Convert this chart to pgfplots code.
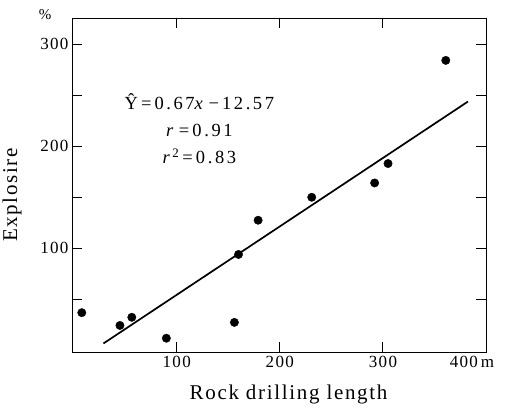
\documentclass[border=0pt]{standalone}
\usepackage{fontspec}
\setmainfont{Liberation Serif}[LetterSpace=8]
\newfontfamily\eqfont{Liberation Serif}[LetterSpace=14]
\usepackage{pgfplots}
\pgfplotsset{compat=1.18}
\begin{document}
\begin{tikzpicture}
\begin{axis}[
    scale only axis,
    width=414bp, height=334bp,
    xmin=-1.5, xmax=400,
    ymin=-1.5, ymax=325.5,
    clip=false,
    axis line style={line width=0.8bp},
    tick style={line width=0.8bp, black},
    major tick length=10bp,
    tick align=inside,
    xtick={100,200,300,400},
    xticklabels={100,200,300,{\llap{400}\,m}},
    ytick={50,100,150,200,250,300},
    yticklabels={,100,,200,,300},
    ticklabel style={font=\fontsize{17bp}{20bp}\selectfont},
    xticklabel style={yshift=-1bp},
    label style={font=\fontsize{21bp}{24bp}\selectfont},
    xlabel={Rock drilling length},
    xlabel style={at={(axis description cs:0.523,0)}, anchor=center, yshift=-42bp},
    ylabel={Explosire},
    ylabel style={at={(axis description cs:-0.145,0.47)}, anchor=center},
]
\addplot[only marks, mark=*, mark size=4.2bp, black] coordinates {
    (8,37) (45,24.5) (56.5,32.5) (90,12) (156,27.5) (160,94)
    (179,127.5) (231,150) (292,164) (305,183) (361,284)
};
\addplot[black, line width=1.7bp] coordinates {(29,6.86) (382.5,243.7)};
\node[font=\fontsize{15bp}{18bp}\selectfont] at (rel axis cs:-0.065,1.01) {\%};
\node[align=center, inner sep=0, font=\eqfont\fontsize{18.5bp}{27bp}\selectfont]
    at (axis cs:122,217) {\^{Y}\,=\,0.67\textit{x}\,−\,12.57\\ \textit{r}\,=\,0.91\\ \textit{r}\textsuperscript{2}\,=\,0.83};
\end{axis}
\pgfresetboundingbox
\useasboundingbox (-72bp,-57bp) rectangle (438bp,352bp);
\end{tikzpicture}
\end{document}
